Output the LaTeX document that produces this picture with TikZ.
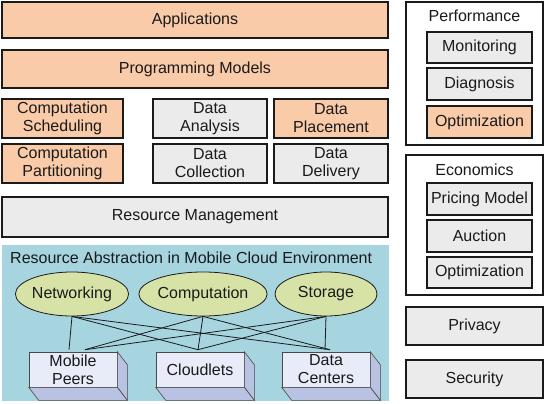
\documentclass[tikz,border=0pt]{standalone}
\usepackage{fontspec}
\setmainfont{Liberation Sans}
\usetikzlibrary{calc,shapes.geometric}
\definecolor{peach}{HTML}{F9CBA9}
\definecolor{lgray}{HTML}{EBEBEB}
\definecolor{panel}{HTML}{A6D5E0}
\definecolor{olive}{HTML}{D7E3A6}
\definecolor{front}{HTML}{E8ECF9}
\definecolor{side}{HTML}{B9C2E2}
\definecolor{ink}{HTML}{1A1A1A}
\begin{document}
\begin{tikzpicture}[x=1pt,y=-1pt,
  every node/.style={font=\fontsize{16}{18}\selectfont, text=ink, align=center, inner sep=0pt},
  obox/.style={draw=ink, line width=1.3pt, fill=peach},
  gbox/.style={draw=ink, line width=1.3pt, fill=lgray},
  wbox/.style={draw=ink, line width=1.3pt, fill=white},
  ell/.style={draw=ink, line width=0.8pt, fill=olive, ellipse, minimum width=102pt, minimum height=44pt},
  cube/.style={draw=ink!80, line width=0.6pt, fill=front, minimum width=88pt, minimum height=35pt},
  cside/.style={draw=ink!80, line width=0.6pt, fill=side},
  link/.style={draw=ink, line width=0.8pt}
]
\useasboundingbox (0,0) rectangle (544,404);
% left stack
\node[obox, minimum width=386pt, minimum height=36pt] (app) at (195,20) {Applications};
\node[obox, minimum width=386pt, minimum height=38pt] (pm) at (195,69) {Programming Models};
\node[obox, minimum width=121pt, minimum height=39pt] (cs) at (62.5,118.5) {Computation\\Scheduling};
\node[gbox, minimum width=114pt, minimum height=39pt] (da) at (210,118.5) {Data\\Analysis};
\node[obox, minimum width=114pt, minimum height=39pt] (dp) at (331,118.5) {Data\\Placement};
\node[obox, minimum width=121pt, minimum height=39pt] (cp) at (62.5,163.5) {Computation\\Partitioning};
\node[gbox, minimum width=114pt, minimum height=39pt] (dc1) at (210,163.5) {Data\\Collection};
\node[gbox, minimum width=114pt, minimum height=39pt] (dd) at (331,163.5) {Data\\Delivery};
\node[gbox, minimum width=386pt, minimum height=40pt] (rm) at (195,217) {Resource Management};
% panel
\node[fill=panel, minimum width=387pt, minimum height=156pt] (pan) at (195.5,323) {};
\node[anchor=west] (ptitle) at (10,258) {Resource Abstraction in Mobile Cloud Environment};
% cubes
\node[cube] (mp) at (73,369.5) {};
\node[cube] (cl) at (200,369.5) {};
\node[cube] (dcn) at (326,369.5) {};
\foreach \b in {mp,cl,dcn}{
  \path[cside] (\b.north east) -- ++(10,13) -- ($(\b.south east)+(10,13)$) -- (\b.south east) -- cycle;
  \path[cside] (\b.south west) -- (\b.south east) -- ++(10,13) -- ($(\b.south west)+(10,13)$) -- cycle;
}
\node at (mp) {Mobile\\Peers};
\node at (cl) {Cloudlets};
\node at (dcn) {Data\\Centers};
% ellipses
\node[ell] (net) at (72,294) {Networking};
\node[ell] (comp) at (203,294) {Computation};
\node[ell] (sto) at (326,294) {Storage};
% links
\coordinate (mpa) at ($(mp.north)+(-4,-2)$);
\coordinate (mpb) at ($(mp.north)+(12,-2)$);
\coordinate (cla) at ($(cl.north)+(-2,-2)$);
\coordinate (dca) at ($(dcn.north)+(4,-2)$);
\coordinate (dcb) at ($(dcn.north)+(-1,-2)$);
\draw[link] (net.south) -- (mpa);
\draw[link] (net.south) -- (cla);
\draw[link] (net.south) -- (dca);
\draw[link] (comp.south) -- (mpb);
\draw[link] (comp.south) -- (cla);
\draw[link] (comp.south) -- (dca);
\draw[link] (sto.south) -- (mpb);
\draw[link] (sto.south) -- (cla);
\draw[link] (sto.south) -- (dcb);
% right column
\node[wbox, minimum width=137pt, minimum height=143pt] (perf) at (474.5,73.5) {};
\node (perft) at (474.5,16) {Performance};
\node[gbox, minimum width=105pt, minimum height=31pt] (mon) at (479.5,47.5) {Monitoring};
\node[gbox, minimum width=105pt, minimum height=32pt] (diag) at (479.5,84) {Diagnosis};
\node[obox, minimum width=105pt, minimum height=32pt] (opt1) at (479.5,122) {Optimization};
\node[wbox, minimum width=137pt, minimum height=140pt] (econ) at (474.5,225) {};
\node (econt) at (474.5,170) {Economics};
\node[gbox, minimum width=105pt, minimum height=32pt] (price) at (479.5,199) {Pricing Model};
\node[gbox, minimum width=105pt, minimum height=32pt] (auc) at (479.5,236) {Auction};
\node[gbox, minimum width=105pt, minimum height=31pt] (opt2) at (479.5,272.5) {Optimization};
\node[gbox, minimum width=137pt, minimum height=38pt] (priv) at (474.5,326) {Privacy};
\node[gbox, minimum width=137pt, minimum height=38pt] (sec) at (474.5,379) {Security};
\end{tikzpicture}
\end{document}
